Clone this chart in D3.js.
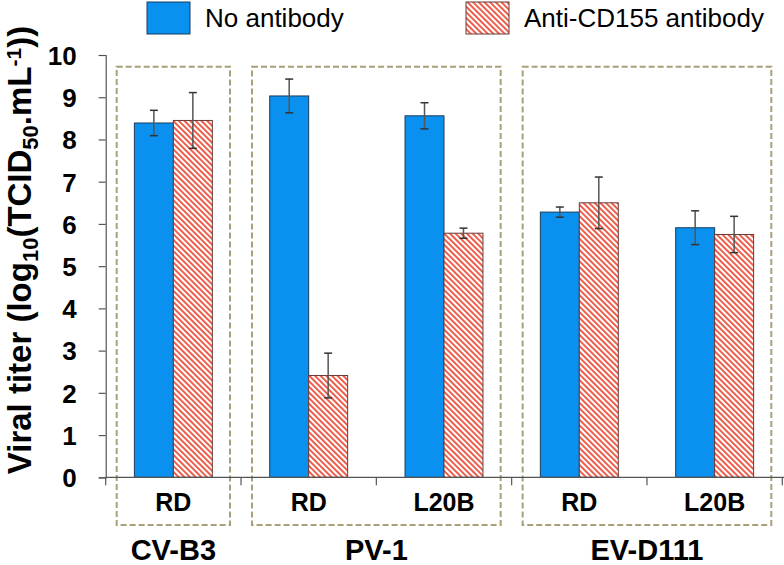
<!DOCTYPE html>
<html>
<head>
<meta charset="utf-8">
<script src="https://cdn.jsdelivr.net/npm/d3@7"></script>
<style>
  html, body { margin: 0; padding: 0; background: #fff; }
  svg { display: block; font-family: "Liberation Sans", Arial, sans-serif; }
</style>
</head>
<body>
<svg id="chart" width="784" height="565"></svg>
<script>
// ---- data ----
const viruses = ["CV-B3", "PV-1", "EV-D111"];
const categoryVirus = ["CV-B3", "PV-1", "PV-1", "EV-D111", "EV-D111"];
const cellLines = ["RD", "RD", "L20B", "RD", "L20B"];
const seriesNames = ["No antibody", "Anti-CD155 antibody"];
const noAntibody = [8.39, 9.03, 8.56, 6.28, 5.91];
const noAntibodyErr = [0.30, 0.40, 0.31, 0.12, 0.40];
const antiCD155 = [8.45, 2.41, 5.78, 6.50, 5.75];
const antiCD155Err = [0.66, 0.53, 0.12, 0.61, 0.43];
const yTicks = [0, 1, 2, 3, 4, 5, 6, 7, 8, 9, 10];

// ---- layout ----
const svg = d3.select("#chart");
const blue = "#0A90EE";
const hatchRed = "#EC5F4C";
const boxColor = "#A8A078";

const defs = svg.append("defs");
const pat = defs.append("pattern")
  .attr("id", "hatch").attr("patternUnits", "userSpaceOnUse")
  .attr("width", 4).attr("height", 4)
  .attr("patternTransform", "rotate(-45)");
pat.append("rect").attr("width", 4).attr("height", 4).attr("fill", "#fff");
pat.append("rect").attr("x", 0).attr("y", 0).attr("width", 2).attr("height", 4).attr("fill", hatchRed);

const idx = d3.range(cellLines.length);
const x = d3.scaleBand().domain(idx).range([105.7, 782.3]).paddingInner(0.424).paddingOuter(0.212);
const xs = d3.scaleBand().domain([0, 1]).range([0, x.bandwidth()]);
const y = d3.scaleLinear().domain([0, 10]).range([477.3, 55]);
const step = x.step(), bw = x.bandwidth();

// group boxes
viruses.forEach(v => {
  const cats = idx.filter(i => categoryVirus[i] === v);
  const left = x(cats[0]) - (step - bw) / 2 + 11;
  const right = x(cats[cats.length - 1]) + bw + (step - bw) / 2 - 11;
  svg.append("rect")
    .attr("x", left).attr("y", 66.7)
    .attr("width", right - left).attr("height", 525 - 66.7)
    .attr("fill", "none").attr("stroke", boxColor)
    .attr("stroke-width", 2).attr("stroke-dasharray", "6,3");
  svg.append("text")
    .attr("x", (left + right) / 2).attr("y", 560)
    .attr("text-anchor", "middle").attr("font-weight", "bold")
    .attr("font-size", 29).attr("fill", "#000").text(v);
});

// bars
const series = [
  { vals: noAntibody, errs: noAntibodyErr, fill: blue, stroke: "#1d3c5c" },
  { vals: antiCD155, errs: antiCD155Err, fill: "url(#hatch)", stroke: "#6a3a36" }
];
series.forEach((s, si) => {
  const g = svg.append("g");
  g.selectAll("rect").data(idx).join("rect")
    .attr("x", i => x(i) + xs(si))
    .attr("y", i => y(s.vals[i]))
    .attr("width", xs.bandwidth())
    .attr("height", i => y(0) - y(s.vals[i]))
    .attr("fill", s.fill).attr("stroke", s.stroke).attr("stroke-width", 1);
});
series.forEach((s, si) => {
  const g = svg.append("g");
  idx.forEach(i => {
    const cx = x(i) + xs(si) + xs.bandwidth() / 2;
    const y1 = y(s.vals[i] + s.errs[i]), y2 = y(s.vals[i] - s.errs[i]);
    g.append("line").attr("x1", cx).attr("x2", cx).attr("y1", y1).attr("y2", y2)
      .attr("stroke", "#555").attr("stroke-width", 1.5);
    [y1, y2].forEach(yy => g.append("line")
      .attr("x1", cx - 4).attr("x2", cx + 4).attr("y1", yy).attr("y2", yy)
      .attr("stroke", "#333").attr("stroke-width", 1.5));
  });
});

// y axis
const yAxis = svg.append("g").attr("transform", "translate(105.7,0)")
  .call(d3.axisLeft(y).tickValues(yTicks).tickSize(7).tickPadding(22).tickFormat(d3.format("d")));
yAxis.select(".domain").attr("stroke", "#555").attr("stroke-width", 1.2);
yAxis.selectAll(".tick line").attr("stroke", "#555").attr("stroke-width", 1.2);
yAxis.selectAll(".tick text").attr("font-size", 26).attr("font-weight", "bold")
  .attr("fill", "#000").attr("font-family", "Liberation Sans, Arial, sans-serif").attr("dy", "0.36em");

// x axis
const xAxisG = svg.append("g").attr("transform", "translate(0,477.3)");
xAxisG.append("line").attr("x1", 105.7).attr("x2", 784).attr("y1", 0).attr("y2", 0)
  .attr("stroke", "#555").attr("stroke-width", 1.2);
const bounds = idx.map(i => x(i) - (step - bw) / 2).concat([x(idx.length - 1) + bw + (step - bw) / 2]);
xAxisG.selectAll("line.tk").data(bounds).join("line").attr("class", "tk")
  .attr("x1", d => d).attr("x2", d => d).attr("y1", 0).attr("y2", 8)
  .attr("stroke", "#555").attr("stroke-width", 1.2);
svg.append("g").selectAll("text").data(idx).join("text")
  .attr("x", i => x(i) + bw / 2).attr("y", 510.7)
  .attr("text-anchor", "middle").attr("font-weight", "bold").attr("font-size", 25)
  .attr("fill", "#000").text(i => cellLines[i]);

// y title
const title = svg.append("text")
  .attr("transform", "translate(31,250) rotate(-90)")
  .attr("text-anchor", "middle").attr("font-weight", "bold").attr("font-size", 33).attr("fill", "#000");
title.append("tspan").text("Viral titer (log");
title.append("tspan").attr("font-size", 22).attr("dy", 7).text("10");
title.append("tspan").attr("dy", -7).text("(TCID");
title.append("tspan").attr("font-size", 22).attr("dy", 7).text("50");
title.append("tspan").attr("dy", -7).text(".mL");
title.append("tspan").attr("font-size", 21).attr("dy", -10).text("-1");
title.append("tspan").attr("dy", 10).text("))");

// legend
const legend = [
  { name: seriesNames[0], fill: blue, stroke: "#1d3c5c", x: 147 },
  { name: seriesNames[1], fill: "url(#hatch)", stroke: "#6a3a36", x: 466 }
];
legend.forEach(l => {
  svg.append("rect").attr("x", l.x).attr("y", 2).attr("width", 43).attr("height", 32)
    .attr("fill", l.fill).attr("stroke", l.stroke).attr("stroke-width", 1);
  svg.append("text").attr("x", l.x + 58).attr("y", 27).attr("font-size", 26)
    .attr("fill", "#000").text(l.name);
});
</script>
</body>
</html>
